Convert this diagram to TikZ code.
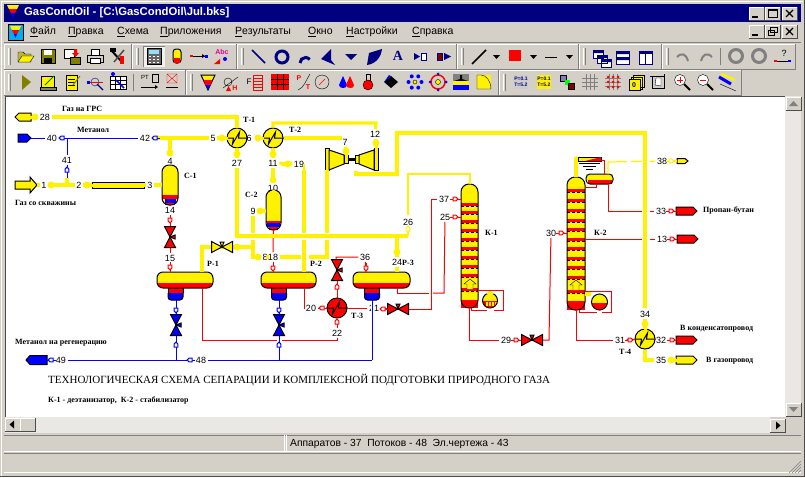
\documentclass[tikz,border=0pt]{standalone}
\usepackage{fontspec}
\setmainfont{Liberation Sans}
\newfontfamily\schfont{Liberation Serif}
\usetikzlibrary{calc}
\definecolor{wingray}{RGB}{212,208,200}
\definecolor{winhatch}{RGB}{234,232,228}
\definecolor{windark}{RGB}{128,128,128}
\definecolor{titlenavy}{RGB}{0,0,128}
\definecolor{iconolive}{RGB}{128,128,0}
\newcommand{\tbar}[4]{%
  \draw[white] (#1,#4) -- (#1,#2) -- (#3,#2);
  \draw[windark] (#3,#2) -- (#3,#4) -- (#1,#4);
  \draw[white] ({#1+4},{#2+4}) -- ({#1+4},{#4-4});
  \draw[windark] ({#1+6},{#2+4}) -- ({#1+6},{#4-4});}
\newcommand{\ic}[3]{\begin{scope}[shift={(#1,#2)}]#3\end{scope}}
\newcommand{\winbtn}[3]{%
  \fill[wingray] (#1,#2) rectangle ({#1+15},{#2+13});
  \draw[white] (#1,{#2+13}) -- (#1,#2) -- ({#1+15},#2);
  \draw[black!70] ({#1+15},#2) -- ({#1+15},{#2+13}) -- (#1,{#2+13});
  \ic{#1}{#2}{#3}}
\newcommand{\outlet}[6]{%
  \draw[unit,fill=#1] (#3,{#5-#6}) -- ({#2-#4},{#5-#6}) -- (#2,#5)
    -- ({#2-#4},{#5+#6}) -- (#3,{#5+#6}) -- cycle;}
\newcommand{\bands}[5]{%
  \begin{scope}
    \clip[rounded corners=8pt] (#1,#2) rectangle (#3,#4);
    \fill[yellow] (#1,#2) rectangle (#3,#4);
    \foreach \yb in {#5} {
      \fill[red] (#1,\yb) rectangle (#3,\yb+2.5);
      \draw[black,dash pattern=on 3pt off 2pt] (#1,\yb+3) -- (#3,\yb+3);
    }
  \end{scope}}
\begin{document}
\begin{tikzpicture}[x=1pt,y=-1pt,
    unit/.style={draw=black,line width=1pt},
    hexer/.style={circle,draw=black,line width=1pt,minimum size=20,inner sep=0},
    shell/.style={draw=black,line width=1pt,inner sep=0,outer sep=0},
    gas/.style={yellow,line width=3.2pt},
    gasthin/.style={yellow,line width=1.2pt},
    liq/.style={red,line width=1pt},
    meth/.style={blue,line width=1pt},
    num/.style={font=\fontsize{9}{9}\selectfont,inner sep=1.5pt,text=black},
    lbl/.style={font=\schfont\bfseries\fontsize{8}{8}\selectfont,inner sep=0,anchor=west,text=black},
    menutxt/.style={font=\fontsize{10.5}{10}\selectfont,inner sep=0,anchor=west},
    tick/.pic={\draw[#1,line width=1pt] (-5,0) -- (-2,0);
      \draw[#1,line width=1pt,fill=white] (-2,-1.8) -- (1,-1.8) -- (3,0) -- (1,1.8) -- (-2,1.8) -- cycle;},
    bead/.pic={\fill[yellow] (0,0) circle (3.5); \fill[yellow] (-6,-1.5) rectangle (0,1.5);},
    valve/.pic={\draw[unit,fill=#1] (-10.5,-5.5) -- (0,0) -- (-10.5,5.5) -- cycle;
      \draw[unit,fill=#1] (10.5,-5.5) -- (0,0) -- (10.5,5.5) -- cycle;
      \draw[unit,fill=#1] (0,0) -- (-2,-5) -- (2,-5) -- cycle;},
    sump/.pic={\fill[red] (-7.5,0) rectangle (7.5,5);
      \draw[unit,fill=blue,rounded corners=3pt] (-7.5,5) -- (-7.5,12) -- (7.5,12) -- (7.5,5);
      \draw[unit] (-7.5,0) -- (-7.5,5) (7.5,0) -- (7.5,5);}
]
\useasboundingbox (0,0) rectangle (805,477);
% window frame
\fill[wingray] (0,0) rectangle (805,477);
\draw[white] (1,476) -- (1,1) -- (803,1);
\draw[black!70] (804,0) -- (804,476.5) -- (0,476.5);
\fill[titlenavy] (4,4) rectangle (801,22);
\fill[yellow] (7,5) -- (19,5) -- (17,9) -- (9,9) -- cycle;
\fill[red] (9,9) -- (17,9) -- (15,13) -- (11,13) -- cycle;
\fill[blue] (11,13) -- (15,13) -- (13,18) -- cycle;
\node[anchor=west,inner sep=0,text=white,font=\bfseries\fontsize{11.3}{10}\selectfont] (title) at (24,13) {GasCondOil - [C:\textbackslash GasCondOil\textbackslash Jul.bks]};
\winbtn{749}{7}{\draw[black,line width=1.5pt] (3,10) -- (9,10);}
\winbtn{765}{7}{\draw[black,line width=1pt] (3,2.5) rectangle (12,10.5); \draw[black,line width=1.5pt] (3,3) -- (12,3);}
\winbtn{782}{7}{\draw[black,line width=1.3pt] (4,3) -- (11,10) (11,3) -- (4,10);}
\winbtn{749}{25}{\draw[black,line width=1.5pt] (3,10) -- (9,10);}
\winbtn{765}{25}{\draw[black] (5.5,2.5) rectangle (12,7.5) (3,5.5) rectangle (9.5,10.5);}
\winbtn{782}{25}{\draw[black,line width=1.3pt] (4,3) -- (11,10) (11,3) -- (4,10);}
% menu
\fill[cyan] (8,24) rectangle (23,40);
\draw[black] (8,24) rectangle (23,40);
\fill[yellow] (10,26) -- (21,26) -- (19,30) -- (12,30) -- cycle;
\fill[red] (12,30) -- (19,30) -- (17,34) -- (14,34) -- cycle;
\fill[blue] (14,34) -- (17,34) -- (15.5,38) -- cycle;
\node[menutxt] (m1) at (30,32) {\underline{Ф}айл};
\node[menutxt] (m2) at (68,32) {\underline{П}равка};
\node[menutxt] (m3) at (117,32) {\underline{С}хема};
\node[menutxt] (m4) at (160,32) {\underline{П}риложения};
\node[menutxt] (m5) at (235,32) {\underline{Р}езультаты};
\node[menutxt] (m6) at (308,32) {\underline{О}кно};
\node[menutxt] (m7) at (346,32) {\underline{Н}астройки};
\node[menutxt] (m8) at (412,32) {\underline{С}правка};
% toolbars
\draw[windark] (4,42.5) -- (801,42.5);
\tbar{4}{44}{131}{69}
\tbar{132}{44}{236}{69}
\tbar{237}{44}{456}{69}
\tbar{457}{44}{578}{69}
\tbar{579}{44}{661}{69}
\tbar{662}{44}{795}{69}
\tbar{4}{70}{185}{95}
\tbar{186}{70}{498}{95}
\tbar{499}{70}{741}{95}
\draw[windark] (133.5,74) -- (133.5,91);
\draw[windark] (720,48) -- (720,65);
% toolbar icons, upper row
\ic{26}{56}{\draw[fill=yellow!70!black] (-8,6) -- (-8,-4) -- (-3,-4) -- (-1,-2) -- (5,-2) -- (5,6) -- cycle; \draw[fill=yellow] (-8,6) -- (-4,0) -- (8,0) -- (4,6) -- cycle;}
\ic{48}{56}{\draw[fill=iconolive] (-7,-7) rectangle (7,7); \fill[white] (-4,-6) rectangle (4,-1); \fill[black] (-4,2) rectangle (4,7);}
\ic{72}{56}{\draw[fill=white] (-8,-7) rectangle (2,2); \draw[fill=iconolive] (-2,1) rectangle (8,8); \fill[red] (2,-7) rectangle (5,-3) (0,-3) -- (7,-3) -- (3.5,1) -- cycle;}
\ic{95}{56}{\draw[fill=white] (-4,-7) rectangle (4,-1); \draw[fill=wingray] (-8,-1) rectangle (8,6); \draw[fill=white] (-5,2) rectangle (5,7);}
\ic{118}{56}{\draw[line width=2pt] (-7,-6) -- (4,6); \draw[line width=1.5pt,black!70] (-4,6) -- (6,-6); \fill[red] (2,0) rectangle (6,8); \fill[black] (-8,-8) rectangle (-2,-4);}
\fill[white!70!wingray] (143,46) rectangle (165,67); \draw[windark] (143,67) -- (143,46) -- (165,46);
\ic{154}{56}{\draw[fill=black!60] (-7,-8) rectangle (7,8); \fill[cyan!40] (-5,-6) rectangle (5,-2); \foreach \xk in {-4,0,4} \foreach \yk in {1,4,7} \fill[white] (\xk-1,\yk-1) rectangle (\xk+1,\yk);}
\ic{177}{56}{\draw[unit,fill=yellow,rounded corners=3pt] (-4,-7) rectangle (4,7); \fill[red] (-3,2) rectangle (3,6.5);}
\ic{199}{56}{\draw[black] (-7,0) -- (8,0); \fill[red] (-9,-1) rectangle (-6,1); \fill[blue] (6,-1.5) rectangle (9,1.5); \fill (3,-2) -- (6,0) -- (3,2) -- cycle;}
\ic{222}{56}{\node[text=magenta,inner sep=0,font=\bfseries\fontsize{7}{7}\selectfont] (iconabc) at (0,-4) {Abc}; \fill[red] (-8,8) -- (-2,3) -- (-2,8) -- cycle; \fill[blue] (3,3) circle (2);}
\begin{scope}[titlenavy]
\draw[line width=1.5pt] (252,50) -- (265,63);
\draw[line width=3pt] (282,57) circle (6);
\draw[line width=3pt] (300,63) arc (180:320:5.5);
\fill (321,59) -- (331,49) -- (331,60) -- (335,65) -- cycle;
\fill (345,54) -- (357,54) -- (351,60) -- cycle;
\fill (367,65) -- (369,53) -- (382,49) .. controls (381,58) and (375,64) .. (367,65) -- cycle;
\node[inner sep=0,font=\schfont\bfseries\fontsize{14}{14}\selectfont] (iconA) at (398,56) {A};
\fill (414,53) -- (420,56.5) -- (414,60) -- cycle;
\draw[fill=white] (421,53) rectangle (426,60);
\draw[fill=red!50!black] (437,53) rectangle (442,60);
\fill (444,53) -- (451,56.5) -- (444,60) -- cycle;
\end{scope}
\draw[line width=1.5pt] (472,64) -- (486,50);
\fill (493,55) -- (500,55) -- (496.5,59) -- cycle;
\fill[red] (509,50) rectangle (521,61);
\fill (530,55) -- (537,55) -- (533.5,59) -- cycle;
\draw[line width=1pt] (545,57) -- (557,57);
\fill (566,55) -- (573,55) -- (569.5,59) -- cycle;
\begin{scope}[titlenavy,line width=1pt]
\draw[fill=white] (593,50) rectangle (603,58) (597,55) rectangle (607,63) (601,59) rectangle (611,67);
\fill (593,50) rectangle (603,53) (597,55) rectangle (607,58) (601,59) rectangle (611,62);
\draw[fill=white] (616,51) rectangle (629,64); \fill (616,51) rectangle (629,54) (616,57) rectangle (629,60);
\draw[fill=white] (639,51) rectangle (652,64); \fill (639,51) rectangle (652,54); \draw (645.5,51) -- (645.5,64);
\end{scope}
\begin{scope}[windark]
\draw[line width=2pt] (677,57) .. controls (682,52) and (686,54) .. (688,61);
\draw[line width=2pt] (712,57) .. controls (707,52) and (703,54) .. (701,61);
\draw[line width=3pt] (736,56) circle (6.5);
\draw[line width=3pt] (759,56) circle (6.5);
\end{scope}
\node[inner sep=0,font=\fontsize{9}{9}\selectfont] (iconq) at (784,53) {?};
\draw[black] (776,61) -- (790,61);
\fill[red] (774,60) rectangle (777,62);
\fill[blue] (788,60) rectangle (791,62);
% toolbar icons, lower row
\fill[iconolive] (22,75) -- (31,82) -- (22,90) -- cycle;
\ic{48}{82}{\draw[fill=yellow] (-7,-6) rectangle (6,5); \draw[fill=windark] (-8,5) rectangle (8,8); \draw[line width=1pt,green!50!black] (-3,3) -- (6,-6);}
\ic{72}{82}{\draw[fill=yellow] (-6,-7) rectangle (5,8); \draw (-4,-3) -- (3,-3) (-4,0) -- (3,0) (-4,3) -- (3,3); \draw[iconolive,line width=1pt] (1,3) -- (8,-6);}
\ic{95}{82}{\draw[titlenavy] (0,0) circle (4); \draw[red] (-8,0) -- (8,0); \fill[blue] (-8,-1.5) rectangle (-5,1.5); \draw[line width=1.2pt,titlenavy] (2,2) -- (8,8);}
\ic{118}{82}{\draw[fill=white] (-8,-6) rectangle (8,7); \foreach \xk in {-3,2} \draw (\xk,-6) -- (\xk,7); \foreach \yk in {-2,2} \draw (-8,\yk) -- (8,\yk); \draw[blue,line width=1.5pt] (-2,-2) -- (6,6); \fill[blue] (-5,-8) circle (2);}
\node[inner sep=0,font=\fontsize{6}{6}\selectfont] (iconpt) at (145,77) {PT};
\draw[black] (152,74) rectangle (158,82) (141,87) -- (155,87);
\fill (155,85) -- (158,87) -- (155,89) -- cycle;
\draw[red] (167,74) rectangle (177,83) (167,74) -- (177,83) (177,74) -- (167,83);
\draw[black] (166,87) -- (178,87);
\draw[unit,fill=yellow] (201,75) -- (215,75) -- (208,90) -- cycle;
\fill[red] (203.5,80) -- (212.5,80) -- (210.5,85) -- (205.5,85) -- cycle;
\fill[blue] (205.5,85) -- (210.5,85) -- (208,90) -- cycle;
\ic{232}{82}{\draw (-4,0) circle (4) (-9,6) -- (6,-5); \node[text=red,inner sep=0,font=\bfseries\fontsize{7}{7}\selectfont] (icondh) at (3,6) {H}; \fill[red] (-6,9) -- (-1,9) -- (-3.5,4) -- cycle;}
\ic{255}{82}{\node[inner sep=0,font=\fontsize{8}{8}\selectfont] (iconf) at (-6,0) {F}; \draw[red] (-2,-7) rectangle (7,8); \foreach \yk in {-4,-1,2,5} \draw[red] (-2,\yk) -- (7,\yk);}
\ic{280}{82}{\fill[red] (-9,-8) rectangle (9,8); \foreach \xk in {-3,3} \draw[black] (\xk,-8) -- (\xk,8); \foreach \yk in {-3,2} \draw[black] (-9,\yk) -- (9,\yk);}
\ic{304}{82}{\node[text=red,inner sep=0,font=\bfseries\fontsize{7}{7}\selectfont] (iconp) at (-5,-4) {P}; \node[text=red,inner sep=0,font=\bfseries\fontsize{7}{7}\selectfont] (icont) at (4,5) {T}; \draw (-6,8) .. controls (0,6) and (2,-2) .. (6,-8);}
\ic{322}{82}{\draw (0,0) circle (7); \draw[red] (-3,3) -- (3,-3);}
\ic{347}{82}{\fill[blue] (-4,-6) -- (-8,3) .. controls (-8,7) and (0,7) .. (0,3) -- cycle; \fill[red] (3,-6) -- (-1,3) .. controls (-1,7) and (8,7) .. (7,3) -- cycle;}
\ic{368}{82}{\draw (-2,-8) rectangle (2,-2); \draw[fill=red] (0,3) circle (5);}
\ic{391}{82}{\fill (0,-6) -- (7,0) -- (0,6) -- (-7,0) -- cycle; \fill[blue] (-7,0) -- (0,-6) -- (-2,-7) -- cycle;}
\ic{415}{82}{\foreach \ang in {0,60,...,300} \fill[blue] (\ang:6.5) circle (2); \fill[yellow] (0,0) circle (2); \draw (0,0) circle (2);}
\ic{438}{82}{\draw[red,line width=1.5pt] (0,0) circle (7); \fill[yellow] (0,0) circle (2.5); \draw (0,0) circle (2.5); \foreach \ang in {0,90,180,270} \fill[blue] (\ang:8) circle (1.5);}
\ic{461}{82}{\fill[windark] (-8,-8) rectangle (8,8); \fill[black] (-7,-1) -- (-1,-3) -- (-1,-7) -- (1,-7) -- (1,-3) -- (7,-1) -- cycle; \fill[yellow] (-8,-1) rectangle (8,3); \fill[blue] (-8,3) rectangle (8,8);}
\ic{484}{82}{\fill[yellow] (-7,-7) rectangle (7,7); \draw (-7,7) -- (-7,-7) -- (-3,-7) .. controls (2,-7) and (7,-1) .. (7,7) -- cycle;}
\ic{521}{82}{\fill[gray!40] (-7,-7) rectangle (7,7); \node[text=titlenavy,inner sep=0,align=left,font=\bfseries\fontsize{5}{6}\selectfont] (iconpt1) at (0,0) {P=0.1\\T=5.2};}
\ic{544}{82}{\fill[yellow] (-7,-7) rectangle (7,7); \node[text=titlenavy,inner sep=0,align=left,font=\bfseries\fontsize{5}{6}\selectfont] (iconpt2) at (0,0) {P=0.1\\T=5.2};}
\ic{567}{82}{\draw[fill=titlenavy!50] (-7,-7) rectangle (-1,-1); \fill[green] (-2,-2) rectangle (3,3); \draw[fill=red!50!black] (1,1) rectangle (7,7);}
\ic{590}{82}{\foreach \kk in {-4,0,4} {\draw[windark] (\kk,-8) -- (\kk,8) (-8,\kk) -- (8,\kk);}}
\ic{613}{82}{\foreach \kk in {-4,0,4} {\draw[windark] (\kk,-8) -- (\kk,8) (-8,\kk) -- (8,\kk);} \foreach \xk in {-5,0,5} \foreach \yk in {-5,0,5} \fill[red] (\xk,\yk) circle (1.5);}
\ic{636}{82}{\draw[fill=yellow] (-3,-7) rectangle (8,5) (-5,-5) rectangle (6,7); \draw[fill=yellow] (-7,-3) rectangle (4,8); \node[inner sep=0,font=\bfseries\fontsize{7}{7}\selectfont] (iconq0) at (-2,3) {0};}
\ic{658}{82}{\draw (-6,-6) rectangle (6,6); \draw[fill=white] (-2,-4) -- (3,-4) -- (3,4) -- (-3,3) -- cycle; \draw (-8,-6) -- (-4,-6) (6,-8) -- (6,-4);}
\ic{682}{82}{\draw[fill=white] (-2,-2) circle (5.5); \draw[red,line width=1pt] (-5,-2) -- (1,-2) (-2,-5) -- (-2,1); \draw[line width=2pt] (2,2) -- (8,8);}
\ic{705}{82}{\draw[fill=white] (-2,-2) circle (5.5); \draw[red,line width=1pt] (-5,-2) -- (1,-2); \draw[line width=2pt] (2,2) -- (8,8);}
\ic{728}{82}{\draw[blue,line width=3pt] (-9,-5) -- (3,2); \draw[yellow,line width=2.5pt] (-7,-8) -- (7,-2); \draw (-8,2) -- (8,9);}
% canvas and scroll bars
\fill[white] (5,96) rectangle (785,417);
\draw[black!70] (5,96) -- (785,96);
\draw[black!70] (5,96) -- (5,417);
\fill[winhatch] (785,96) rectangle (801,417);
\fill[winhatch] (5,417) rectangle (770,433);
\winbtn{786}{97}{\fill[windark] (7.5,4) -- (3,9) -- (12,9) -- cycle;}
\winbtn{786}{403}{\fill[windark] (7.5,9) -- (3,4) -- (12,4) -- cycle;}
\winbtn{5}{418}{\fill (4.5,6.5) -- (9,2.5) -- (9,10.5) -- cycle;}
\winbtn{20}{418}{}
\winbtn{770}{419}{\fill (10.5,6.5) -- (6,2.5) -- (6,10.5) -- cycle;}
% status bars
\fill[wingray] (4,435) rectangle (801,473);
\draw[windark] (4,435) -- (801,435);
\draw[white] (4,451.5) -- (801,451.5);
\draw[windark] (4,453.5) -- (801,453.5);
\draw[white] (4,472.5) -- (801,472.5);
\draw[white] (284.5,435) -- (284.5,451) (286,435) -- (286,451);
\node[anchor=west,inner sep=0,font=\fontsize{10.3}{10}\selectfont] (statusline) at (290,444) {Аппаратов - 37\ \ Потоков - 48\ \ Эл.чертежа - 43};
\foreach \gd in {3,6,9,12} \draw[windark] (801-\gd,473) -- (801,473-\gd);
% stream numbers
\foreach \nm/\xs/\ys/\txt in {s28/45/117/28,s40/52/138/40,s42/145/138/42,s5/213/138/5,s6/249/138/6,
    s27/237/163/27,s12/375/134/12,s7/345/142/7,s11/273/163/11,s19/299/164/19,s10/273/188/10,
    s9/253/211/9,s4/170/161/4,s41/67/160/41,s1/44/185/1,s2/79/185/2,s3/150/185/3,s14/170/210/14,
    s15/170/258/15,s8/265/257/8,s18/273/257/18,s36/365/257/36,s24/397/262/24,s26/408/222/26,
    s37/444/199/37,s25/445/217/25,s30/551/233/30,s29/506/340/29,s20/311/308/20,s22/337/333/22,
    s21/374/308/21,s49/61/360/49,s48/201/360/48,s38/662/161/38,s33/661/211/33,s13/662/239/13,
    s34/645/314/34,s31/620/340/31,s32/661/340/32,s35/661/360/35}
  \node[num] (\nm) at (\xs,\ys) {\txt};
% apparatus
\node[hexer,fill=yellow] (t1) at (237,138) {};
\node[hexer,fill=yellow] (t2) at (273,138) {};
\node[hexer,fill=red] (t3) at (337,308) {};
\node[hexer,fill=yellow] (t4) at (645,339) {};
\foreach \hx in {t1,t2,t3,t4}
  \draw[black,line width=1pt] (\hx.west) -- ++(7,0) -- ++(-1,6) -- ++(7,-12) -- ++(-1,6) -- (\hx.east);
\bands{162}{165}{178}{205}{500}
\fill[red] (162,195) rectangle (178,199);
\fill[blue] (165,199) rectangle (176,203);
\fill[red] (165,203) rectangle (175,205);
\node[shell,minimum width=16,minimum height=40,rounded corners=7pt] (c1) at (170,185) {};
\bands{266}{190}{281}{230}{500}
\fill[red] (266,221) rectangle (281,223);
\fill[blue] (267,223) rectangle (280,227);
\fill[red] (269,227) rectangle (278,230);
\node[shell,minimum width=15,minimum height=40,rounded corners=7pt] (c2) at (273.5,210) {};
\foreach \pname/\pcx/\pwid in {p1/185/56,p2/288.5/55,p3/381.5/57} {
  \pic at (\pcx-9.5,288) {sump};
  \begin{scope}
    \clip[rounded corners=6pt] (\pcx-\pwid/2,272) rectangle (\pcx+\pwid/2,288);
    \fill[yellow] (\pcx-\pwid/2,272) rectangle (\pcx+\pwid/2,283);
    \fill[red] (\pcx-\pwid/2,283) rectangle (\pcx+\pwid/2,288);
  \end{scope}
  \node[shell,minimum width=\pwid,minimum height=16,rounded corners=6pt] (\pname) at (\pcx,280) {};
}
% columns
\bands{461}{184}{478}{308}{203,211,220,229,238,247,256,265,274,288}
\fill[red] (461,300) rectangle (478,308);
\node[shell,minimum width=17,minimum height=124,rounded corners=8pt] (k1) at (469.5,246) {};
\draw[black,fill=yellow] (467,289) -- (467,284) -- (464,284) -- (470,279) -- (476,284) -- (473,284) -- (473,289);
\bands{567}{177}{585}{310}{189,199,209,219,228,238,247,257,266,276,290}
\fill[red] (567,301) rectangle (585,310);
\node[shell,minimum width=18,minimum height=133,rounded corners=8pt] (k2) at (576,243.5) {};
\draw[black,fill=yellow] (573,290) -- (573,285) -- (570,285) -- (576,280) -- (582,285) -- (579,285) -- (579,290);
\begin{scope}
  \clip (490,300) circle (7.5);
  \fill[yellow] (482,292) rectangle (498,301);
  \fill[red] (482,301) rectangle (498,309);
  \foreach \xd in {486,489,492,495} \fill[yellow] (\xd,302) rectangle (\xd+1.5,306);
\end{scope}
\node[shell,circle,minimum size=15] (reb1) at (490,300.5) {};
\fill[yellow] (486,294) -- (490,290) -- (494,294) -- cycle;
\begin{scope}
  \clip (599.5,302) circle (8);
  \fill[yellow] (590,293) rectangle (609,303);
  \fill[red] (590,303) rectangle (609,311);
\end{scope}
\node[shell,circle,minimum size=16] (reb2) at (599.5,302) {};
% column K-2 overhead
\draw[unit,fill=yellow] (578,157) rectangle (601,161);
\fill[red] (585,161) -- (601,157) -- (601,161) -- cycle;
\draw[black] (579,163) -- (600,163) (583,166) -- (596,166) (586,169) -- (593,169);
\fill[yellow] (586,174) rectangle (613,180);
\fill[red] (588,180) rectangle (612,184);
\node[shell,minimum width=27,minimum height=10,rounded corners=4pt] (drum) at (599.5,179) {};
% outlets and inlets
\outlet{yellow}{15}{31}{-4}{117}{4}
\coordinate (o28) at (31,117);
\outlet{blue}{31}{18}{4}{138}{4}
\coordinate (o40) at (31,138);
\draw[unit,fill=yellow] (15,181) -- (30,181) -- (30,177) -- (37,185) -- (30,193) -- (30,189) -- (15,189) -- cycle;
\coordinate (o1) at (37,185);
\outlet{blue}{26}{47}{-4}{360}{4.5}
\coordinate (o49) at (47,360);
\outlet{yellow}{688}{677}{3}{161}{2.5}
\coordinate (o38) at (677,161);
\outlet{red}{697}{676}{4}{211}{4}
\coordinate (o33) at (676,211);
\outlet{red}{698}{677}{4}{239}{4}
\coordinate (o13) at (677,239);
\outlet{red}{697}{676}{4}{340}{4}
\coordinate (o32) at (676,340);
\outlet{yellow}{697}{676}{4}{360}{4}
\coordinate (o35) at (676,360);
\draw[unit,fill=yellow] (92,182) rectangle (144,188);
\coordinate (pipeL) at (92,185);
\coordinate (pipeR) at (144,185);
% compressor
\node[shell,fill=yellow,minimum width=4,minimum height=22] (cmL) at (327,159.5) {};
\draw[unit,fill=yellow] (329,150) -- (344,155) -- (344,164) -- (329,170) -- cycle;
\node[shell,fill=yellow,minimum width=4,minimum height=8] (shL) at (346,159) {};
\node[shell,fill=yellow,minimum width=4,minimum height=8] (shR) at (357,159) {};
\draw[black,line width=3pt] (shL) -- (shR);
\draw[unit,fill=yellow] (374,150) -- (359,155) -- (359,164) -- (374,170) -- cycle;
\node[shell,fill=yellow,minimum width=4,minimum height=22] (cmR) at (376,159.5) {};
% valve nodes
\coordinate (v1) at (170,237);
\coordinate (v2) at (176,325);
\coordinate (v3) at (279,325);
\coordinate (v4) at (337,270);
\coordinate (v5) at (222,247);
\coordinate (v6) at (398,309);
\coordinate (v7) at (532,340);
% thin connectors
\draw[meth] (o40) -- (s40);
\draw[meth] (s40) -- (s42);
\draw[meth] (67,138) -- (s41);
\draw[meth] (s41) -- (67,178);
\draw[liq] (c1) -- (s14);
\draw[liq] (s14) -- (v1);
\draw[liq] (v1) -- (s15);
\draw[liq] (s15) -- (p1.north -| s15);
\draw[meth] (176,300) -- (v2);
\draw[meth] (v2) -- (176,360);
\draw[meth] (s49) -- (s48);
\draw[meth] (o49) -- (s49);
\draw[meth] (279,300) -- (v3);
\draw[liq] (c2) -- (s18);
\draw[liq] (s18) -- (p2.north -| s18);
\draw[liq] (202,288) -- (202,340) -- (277,340);
\draw[liq] (282,340) -- (337,340) -- (s22);
\draw[liq] (s22) -- (t3);
\draw[liq] (t3) -- (v4);
\draw[liq] (v4) -- (336,257) -- (s36);
\draw[liq] (s36) -- (366,272);
\draw[liq] (304,288) -- (304,308) -- (s20);
\draw[liq] (s20) -- (t3);
\draw[liq] (t3) -- (s21);
\draw[liq] (v6) -- (s21);
\draw[liq] (v6) -- (431,309) -- (431,199) -- (s37);
\draw[liq] (s37) -- (461,199);
\draw[liq] (397,288) -- (397,293) -- (429,293);
\draw[liq] (433,293) -- (444,293) -- (s25);
\draw[liq] (s25) -- (461,217);
\draw[liq] (469,308) -- (469,340) -- (s29);
\draw[liq] (s29) -- (v7);
\draw[liq] (v7) -- (549,340) -- (s30);
\draw[liq] (s30) -- (567,233);
\draw[liq] (478,290) -- (503,290) -- (503,310) -- (494,310);
\draw[liq] (471,308) -- (471,310) -- (487,310);
\draw[liq] (585,291) -- (611,291) -- (611,312) -- (602,312);
\draw[liq] (579,310) -- (579,312) -- (597,312);
\draw[liq] (576,310) -- (576,340) -- (s31);
\draw[liq] (s31) -- (t4);
\draw[liq] (t4) -- (s32);
\draw[liq] (s32) -- (o32);
\draw[liq] (596,184) -- (596,187.5) -- (585,187.5);
\draw[liq] (601,160) -- (604,160) -- (604,174);
\draw[liq] (608,184) -- (608,211) -- (s33);
\draw[liq] (s33) -- (o33);
\draw[liq] (k2.east |- s13) -- (s13);
\draw[liq] (s13) -- (o13);
\draw[gasthin] (408,215) -- (408,174) -- (470,174) -- (470,184);
\draw[gasthin] (608,174) -- (608,162) -- (s38);
\draw[gasthin] (s38) -- (o38);
\draw[white,line width=3pt] (627,162) -- (631,162);
% thick streams
\draw[gas] (s28) -| (t1);
\draw[gas] (s42) -- (s5);
\draw[gas] (170,138) -- (s4);
\draw[gas] (s5) -- (t1);
\draw[gas] (t2) -- (s11);
\draw[gas] (t2) |- (376,123) -- (s12);
\draw[gas] (s12) -- (376,148);
\draw[gas] (t2) -- (342,138);
\draw[gas] (s7) -- (346,151);
\draw[gas] (o1) -- (s1);
\draw[gas] (s1) -- (s2);
\draw[gas] (s2) -- (pipeL);
\draw[gas] (pipeR) -- (s3);
\draw[gas] (s3) -- (162,185);
\draw[gas] (67,185) -- (67,178);
\draw[gas] (s11) -- (s19);
\draw[gas] (s11) -- (s10);
\draw[gas] (s10) -- (273.5,190);
\draw[gas] (s9) -- (266,211);
\draw[gas] (s9) -- (253,257) -- (s8);
\draw[gas] (v5) -- (253,247);
\draw[gas] (v5) -- (202,247) -- (202,272);
\draw[gas] (s8) -- (s18);
\draw[gas] (s18) -- (301,257);
\draw[gasthin] (304,164) -- (304,172);
\draw[gas] (304,170) -- (p2.north -| 304,0);
\draw[gas] (327,170) -- (327,257) -- (309,257);
\draw[gas] (cmR.south -| 356,0) -- (356,174) -- (397,174) -- (397,133) -- (645,133) -- (645,308);
\draw[gas] (s34) -- (t4);
\draw[gas] (t4) -- (645,360) -- (s35);
\draw[gas] (s35) -- (o35);
\draw[gas] (576,177) -- (576,159) -- (578,159);
\draw[gas] (591,294) -- (585,294);
% white gaps at crossings
\foreach \xc in {253,304,327} \draw[white,line width=7pt] (\xc,233) -- (\xc,240);
\draw[white,line width=4pt] (642,211) -- (650,211) (642,239) -- (650,239) (642,162) -- (650,162);
\draw[gas] (645,133) -- (645,308);
\draw[gas] (s27) -- (237,236) -- (408,236);
\draw[gas] (t1) -- (s27);
\draw[gas] (397,236) -- (s24);
\draw[gas] (s24) -- (p3.north -| s24);
\draw[gasthin] (s26) -- (408,236);
% bottom methanol, over the red line
\draw[white,line width=4pt] (279,332) -- (279,358);
\draw[meth] (v3) -- (279,360);
\draw[meth] (s48) -- (372,360);
\draw[white,line width=3pt] (372,303) -- (372,314);
\draw[meth] (372,300) -- (372,360);
% valves
\foreach \vn/\vr/\vc in {v1/-90/red,v2/-90/blue,v3/-90/blue,v4/-90/red,v5/0/yellow,v6/0/red,v7/0/red}
  \pic[rotate=\vr] at (\vn) {valve=\vc};
% small stream marks
\foreach \xt/\yt/\rt/\ct in {62/138/180/blue,155/138/180/blue,67/170/90/blue,176/310/-90/blue,176/345/90/blue,
    51/360/180/blue,190/360/180/blue,279/310/-90/blue,279/345/90/blue,170/220/-90/red,170/267/-90/red,
    273/268/-90/red,337/322/90/red,337/287/90/red,322/308/180/red,366/268/-90/red,383/309/180/red,
    455/199/0/red,455/217/0/red,516/340/0/red,561/233/0/red,630/340/0/red,672/340/0/red,671/211/0/red,
    672/239/0/red,671/161/0/yellow,408/229/90/yellow}
  \pic[rotate=\rt] at (\xt,\yt) {tick=\ct};
\foreach \xt/\yt/\rt in {35/117/0,222/138/180,258/138/180,237/154/-90,273/154/-90,51/185/180,87/185/180,376/143/90,
    346/151/90,273/180/-90,288/164/0,260/211/180,237/247/180,258/257/0,397/252/-90,170/153/-90,645/324/90,671/360/180}
  \pic[rotate=\rt] at (\xt,\yt) {bead};
% captions
\foreach \nm/\xs/\ys/\txt in {lt1/243/120/Т-1,lt2/289/130/Т-2,lc1/184/176/С-1,lc2/245/195/С-2,lp1/207/264/Р-1,
    lp2/310/264/Р-2,lp3/402/263/Р-3,lt3/351/316/Т-3,lk1/485/233/К-1,lk2/594/233/К-2,lt4/619/352/Т-4,
    lgrs/62/109/Газ на ГРС,lmet/77/130/Метанол,lwell/15/203/Газ со скважины,lreg/15/343/Метанол на регенерацию,
    lpb/703/210/Пропан-бутан,lcond/680/329/В конденсатопровод,lpipe/706/361/В газопровод}
  \node[lbl] (\nm) at (\xs,\ys) {\txt};
\node[lbl,font=\schfont\fontsize{11}{11}\selectfont] (maintitle) at (48,380) {ТЕХНОЛОГИЧЕСКАЯ СХЕМА СЕПАРАЦИИ И КОМПЛЕКСНОЙ ПОДГОТОВКИ ПРИРОДНОГО ГАЗА};
\node[lbl] (subtitle) at (48,400) {К-1 - деэтанизатор,\ \ К-2 - стабилизатор};
\end{tikzpicture}
\end{document}
